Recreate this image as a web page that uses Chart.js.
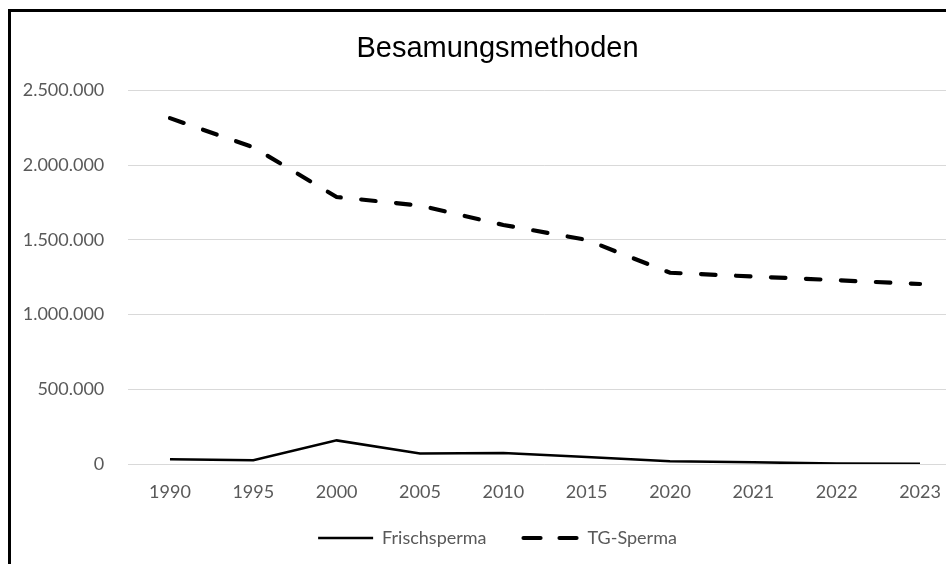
<!DOCTYPE html>
<html>
<head>
<meta charset="utf-8">
<script src="https://cdn.jsdelivr.net/npm/chart.js@4"></script>
<style>
  html, body { margin: 0; padding: 0; background: #fff; overflow: hidden; width: 946px; height: 564px; }
  #frame { position: absolute; left: 8px; top: 9px; border: 3px solid #000; width: 973px; height: 572px; background: #fff; }
  canvas { display: block; }
</style>
</head>
<body>
<div id="frame"><canvas id="c" width="973" height="572"></canvas></div>
<script>
const chartTitle = 'Besamungsmethoden';
const categories = ['1990', '1995', '2000', '2005', '2010', '2015', '2020', '2021', '2022', '2023'];
const seriesNames = ['Frischsperma', 'TG-Sperma'];
const frischsperma = [31000, 25000, 158000, 70000, 73000, 47000, 18000, 11000, 3000, 2000];
const tgSperma = [2315000, 2120000, 1787000, 1730000, 1600000, 1500000, 1280000, 1255000, 1230000, 1205000];
const yTicks = [0, 500000, 1000000, 1500000, 2000000, 2500000];

function deFormat(v) {
  return String(Math.round(v)).replace(/\B(?=(\d{3})+(?!\d))/g, '.');
}

const grey = '#595959';
const tickFont = { family: 'Lato', size: 18 };

// let the category labels draw below the (thin) x-axis box without clipping
const noLabelClip = {
  id: 'noLabelClip',
  beforeDraw(chart) {
    const s = chart.scales.x;
    if (s) s._computeLabelArea = () => undefined;
  }
};

new Chart(document.getElementById('c'), {
  type: 'line',
  data: {
    labels: categories,
    datasets: [
      {
        label: seriesNames[0],
        data: frischsperma,
        borderColor: '#000',
        backgroundColor: '#000',
        borderWidth: 2.5,
        pointRadius: 0,
        tension: 0,
        borderCapStyle: 'butt'
      },
      {
        label: seriesNames[1],
        data: tgSperma,
        borderColor: '#000',
        backgroundColor: '#000',
        borderWidth: 4.2,
        borderDash: [14.5, 20.5],
        borderCapStyle: 'round',
        pointRadius: 0,
        tension: 0
      }
    ]
  },
  plugins: [noLabelClip],
  options: {
    responsive: false,
    animation: false,
    devicePixelRatio: 1,
    layout: { padding: { left: 0, right: 0, top: 0, bottom: 27 } },
    plugins: {
      title: {
        display: true,
        text: chartTitle,
        color: '#000',
        font: { family: 'Liberation Sans', size: 29, weight: 'normal', lineHeight: 1.2 },
        padding: { top: 19.6, bottom: 24.1 }
      },
      legend: {
        display: true,
        position: 'bottom',
        labels: {
          usePointStyle: true,
          pointStyle: 'line',
          pointStyleWidth: 55,
          boxWidth: 55,
          padding: 37,
          color: grey,
          font: tickFont,
          generateLabels: chart => {
            const items = Chart.defaults.plugins.legend.labels.generateLabels(chart);
            items.forEach(it => {
              const ds = chart.data.datasets[it.datasetIndex];
              it.lineDash = ds.borderDash ? [17, 19] : [];
              it.lineCap = ds.borderCapStyle || 'butt';
              it.lineWidth = ds.borderWidth;
              it.strokeStyle = ds.borderColor;
              it.pointStyle = 'line';
            });
            return items;
          }
        }
      },
      tooltip: { enabled: false }
    },
    scales: {
      x: {
        type: 'category',
        offset: true,
        grid: { display: false, drawTicks: false },
        border: { display: false },
        ticks: { color: grey, font: tickFont, padding: 17, maxRotation: 0, autoSkip: false },
        afterFit: s => { s.height = 28; }
      },
      y: {
        min: 0,
        max: 2500000,
        afterBuildTicks: s => { s.ticks = yTicks.map(v => ({ value: v })); },
        grid: { color: '#d9d9d9', lineWidth: 1, drawTicks: false },
        border: { display: false },
        ticks: { color: grey, font: tickFont, padding: 24, callback: v => deFormat(v) },
        afterFit: s => { s.width = 117.3; }
      },
      yPad: {
        type: 'linear',
        position: 'right',
        display: true,
        grid: { display: false, drawTicks: false },
        border: { display: false },
        ticks: { display: false },
        afterFit: s => { s.width = 22.3; }
      }
    }
  }
});
</script>
</body>
</html>
